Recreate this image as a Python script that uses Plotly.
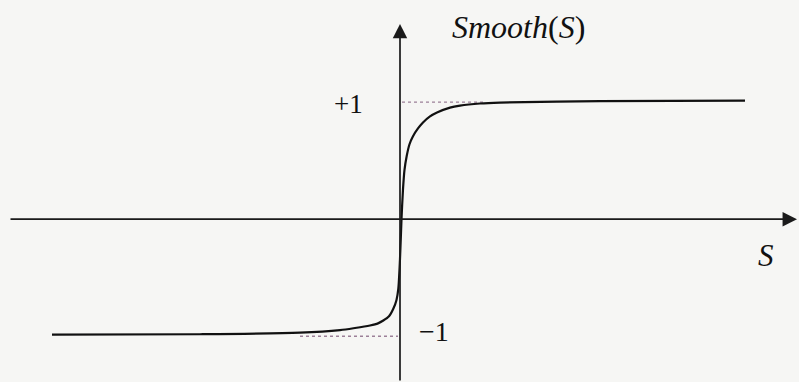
import plotly.graph_objects as go

# Smooth(S) curve, sampled points (S, Smooth(S))
s_values = [-3.48, -2.0, -1.0, -0.6, -0.45, -0.3, -0.22, -0.167, -0.11, -0.067,
            -0.035, -0.017, 0.0, 0.015, 0.03, 0.045, 0.067, 0.095, 0.13, 0.18,
            0.23, 0.3, 0.37, 0.5, 0.6, 0.8, 1.0, 2.0, 3.45]
smooth_values = [-0.987, -0.983, -0.970, -0.948, -0.930, -0.908, -0.890, -0.866, -0.830, -0.766,
                 -0.690, -0.596, -0.340, 0.0, 0.255, 0.420, 0.539, 0.640, 0.709, 0.775,
                 0.826, 0.878, 0.911, 0.953, 0.970, 0.988, 0.996, 1.009, 1.013]

# Asymptote guide levels and their extents along S
level_values = [1, -1]
level_s_ranges = [[0.02, 0.83], [-1.0, -0.02]]
level_labels = ["+1", "\u22121"]

X_RANGE = [-4.0, 3.99]
Y_RANGE = [-1.391, 1.872]

SERIF = "Times New Roman, Liberation Serif, DejaVu Serif, serif"

fig = go.Figure()

# dotted guide lines at +1 and -1
for lvl, (s0, s1) in zip(level_values, level_s_ranges):
    fig.add_trace(go.Scatter(
        x=[s0, s1], y=[lvl, lvl], mode="lines",
        line=dict(color="#9c8098", width=1.3, dash="dot"),
        hoverinfo="skip", showlegend=False,
    ))

# the curve
fig.add_trace(go.Scatter(
    x=s_values, y=smooth_values, mode="lines",
    line=dict(color="#111111", width=2.2, shape="spline", smoothing=0.8),
    showlegend=False,
))

axis_color = "#1a1a1a"
annotations = [
    # horizontal axis with arrow
    dict(x=3.97, y=0, ax=-3.91, ay=0, xref="x", yref="y", axref="x", ayref="y",
         showarrow=True, arrowhead=2, arrowsize=1.7, arrowwidth=1.7,
         arrowcolor=axis_color, text=""),
    # vertical axis with arrow
    dict(x=0, y=1.668, ax=0, ay=Y_RANGE[0], xref="x", yref="y", axref="x", ayref="y",
         showarrow=True, arrowhead=2, arrowsize=1.7, arrowwidth=1.7,
         arrowcolor=axis_color, text=""),
    # axis titles
    dict(x=1.185, y=1.64, xref="x", yref="y", showarrow=False,
         text="<i>Smooth</i>(<i>S</i>)",
         font=dict(family=SERIF, size=32, color="#111111")),
    dict(x=3.66, y=-0.31, xref="x", yref="y", showarrow=False,
         text="<i>S</i>",
         font=dict(family=SERIF, size=31, color="#111111")),
    # level labels
    dict(x=-0.515, y=0.98, xref="x", yref="y", showarrow=False,
         text=level_labels[0],
         font=dict(family=SERIF, size=27, color="#111111")),
    dict(x=0.335, y=-0.96, xref="x", yref="y", showarrow=False,
         text=level_labels[1],
         font=dict(family=SERIF, size=28, color="#111111")),
]

fig.update_layout(
    width=799, height=382,
    margin=dict(l=0, r=0, t=0, b=0),
    paper_bgcolor="#f6f6f4",
    plot_bgcolor="#f6f6f4",
    xaxis=dict(range=X_RANGE, visible=False, fixedrange=True),
    yaxis=dict(range=Y_RANGE, visible=False, fixedrange=True),
    annotations=annotations,
    showlegend=False,
)

fig.write_html("out.html")
